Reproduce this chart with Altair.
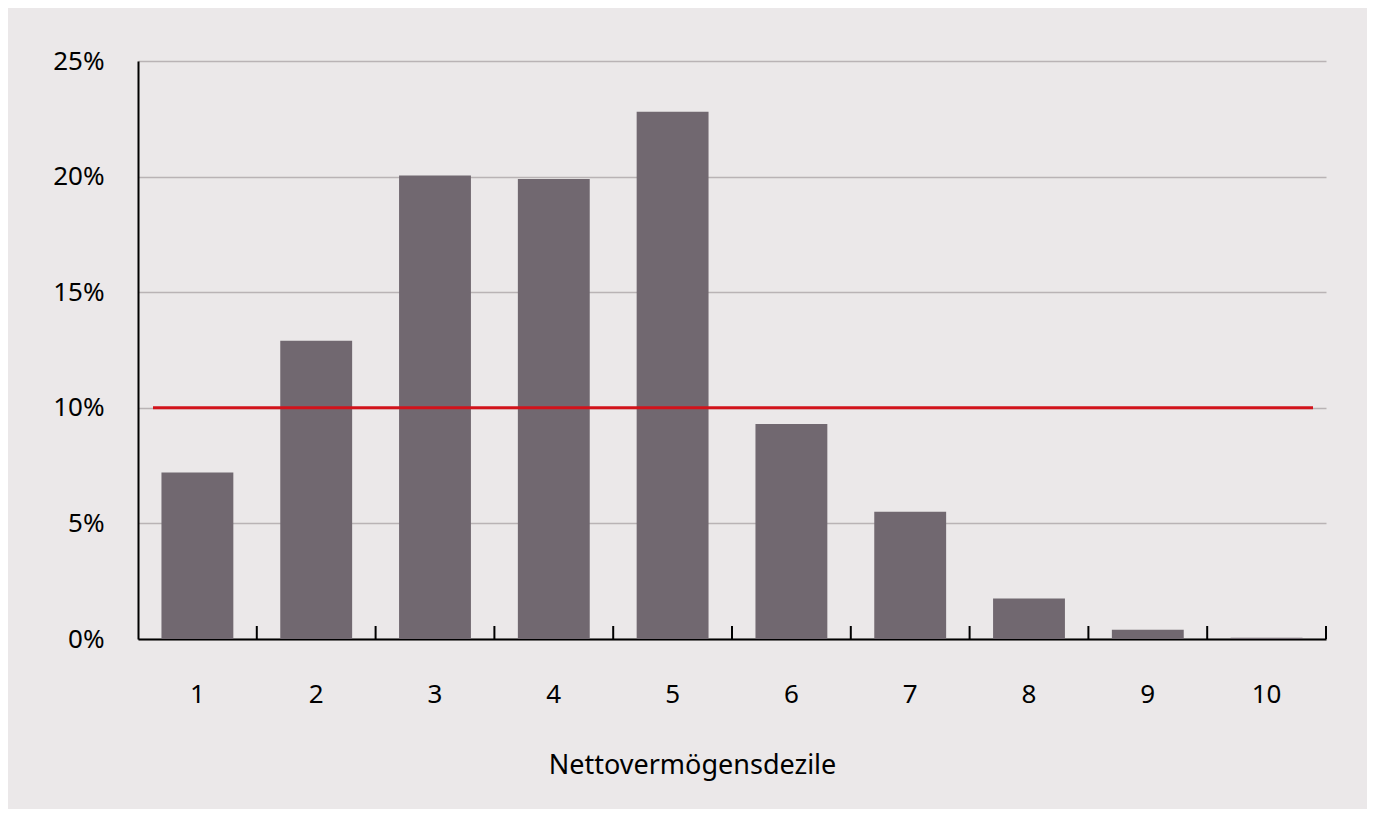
import altair as alt
import pandas as pd

deciles = ["1", "2", "3", "4", "5", "6", "7", "8", "9", "10"]
shares = [0.072, 0.129, 0.2005, 0.199, 0.228, 0.093, 0.055, 0.0175, 0.004, 0.0005]
reference_share = 0.10
x_title = "Nettovermögensdezile"

df = pd.DataFrame({"dezil": deciles, "anteil": shares})

W, H = 1188, 578
FONT = "Noto Sans"
BG = "#ebe8e9"
P_IN = 0.395
P_OUT = P_IN / 2

x_scale = alt.Scale(domain=deciles, paddingInner=P_IN, paddingOuter=P_OUT)
tick_scale = alt.Scale(domain=deciles, paddingInner=0, paddingOuter=0)
y_scale = alt.Scale(domain=[0, 0.25])

bars = alt.Chart(df).mark_bar(color="#716870").encode(
    x=alt.X("dezil:N", scale=x_scale, sort=deciles,
            axis=alt.Axis(title=x_title, labelAngle=0, domain=True,
                          domainColor="black", domainWidth=2,
                          ticks=False, labelPadding=42,
                          labelFontSize=26, labelFont=FONT, labelColor="black",
                          titleFont=FONT, titleFontSize=27, titleFontWeight="normal",
                          titleColor="black", titleX=554, titleY=134,
                          titleBaseline="alphabetic", titleAlign="center",
                          grid=False)),
    y=alt.Y("anteil:Q", scale=y_scale,
            axis=alt.Axis(title=None, format=".0%", values=[0, 0.05, 0.1, 0.15, 0.2, 0.25],
                          domain=True, domainColor="black", domainWidth=2,
                          ticks=False, labelPadding=34, labelFontSize=26,
                          labelFont=FONT, labelColor="black",
                          grid=True, gridColor="#b9b3b5", gridWidth=1.5)),
)

redline = alt.Chart(pd.DataFrame({"v": [reference_share]})).mark_rule(
    color="#d2131b", strokeWidth=3
).encode(
    y=alt.Y("v:Q", scale=y_scale), x=alt.value(15), x2=alt.value(W - 13)
)

ticks = alt.Chart(df).mark_rule(color="black", strokeWidth=2).encode(
    x=alt.X("dezil:N", scale=tick_scale, sort=deciles, bandPosition=1, axis=None),
    y=alt.value(H - 13), y2=alt.value(H),
)

chart = alt.layer(bars, redline, ticks).resolve_scale(x="independent").properties(
    width=W, height=H,
    background=BG,
    autosize=alt.AutoSizeParams(type="none"),
    padding={"left": 130, "top": 53, "right": 41, "bottom": 170},
).configure_view(stroke=None)

chart.save("out.html", embed_options={"renderer": "svg", "actions": False})
